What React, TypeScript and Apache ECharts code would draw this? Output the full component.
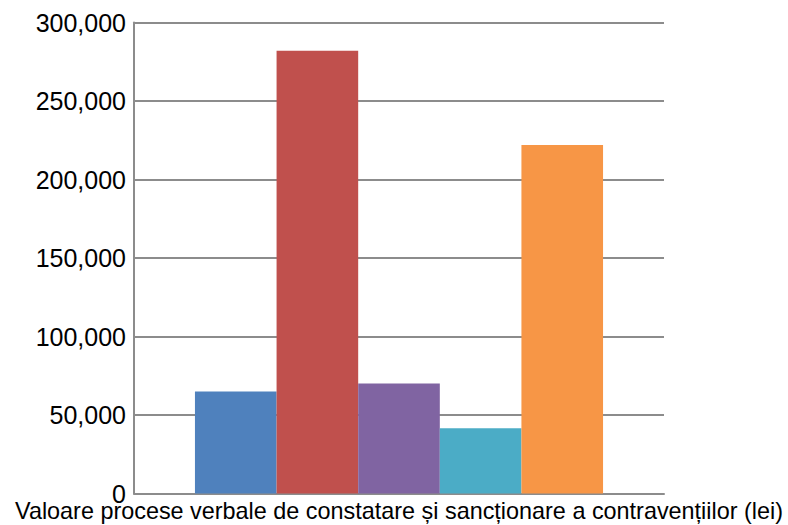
import React, { useEffect, useRef } from "react";
import * as echarts from "echarts";

const categories = ["Valoare procese verbale de constatare și sancționare a contravențiilor (lei)"];
const seriesNames = ["Serie 1", "Serie 2", "Serie 3", "Serie 4", "Serie 5"];
const seriesValues = [65000, 282000, 70000, 41600, 222000];
const seriesColors = ["#4F81BD", "#C0504D", "#8064A2", "#4BACC6", "#F79646"];

export default function App() {
  const ref = useRef<HTMLDivElement>(null);
  useEffect(() => {
    if (!ref.current) return;
    const chart = echarts.init(ref.current, null, { renderer: "svg" });
    chart.setOption({
      animation: false,
      grid: {
        left: 134,
        right: 124,
        top: 22.5,
        bottom: 31.5,
        containLabel: false,
        outerBoundsMode: "none",
      },
      xAxis: {
        type: "category",
        data: categories,
        axisLine: { show: true, lineStyle: { color: "#8C8C8C", width: 2 } },
        axisTick: { show: false },
        axisLabel: {
          interval: 0,
          margin: 6,
          color: "#000",
          fontFamily: "'Liberation Sans', sans-serif",
          fontSize: 23.4,
          hideOverlap: false,
        },
      },
      yAxis: {
        type: "value",
        min: 0,
        max: 300000,
        interval: 50000,
        axisLine: { show: true, lineStyle: { color: "#8C8C8C", width: 2 } },
        axisTick: { show: false },
        splitLine: { show: true, lineStyle: { color: "#8C8C8C", width: 2 } },
        axisLabel: {
          margin: 8,
          color: "#000",
          fontFamily: "'Liberation Sans', sans-serif",
          fontSize: 25,
          formatter: (v: number) => v.toLocaleString("en-US"),
        },
      },
      series: seriesNames.map((name, i) => ({
        name,
        type: "bar",
        data: [seriesValues[i]],
        barGap: "0%",
        barCategoryGap: "23%",
        itemStyle: { color: seriesColors[i] },
      })),
    });
    return () => chart.dispose();
  }, []);
  return (
    <div
      ref={ref}
      style={{ position: "absolute", left: 0, top: 0, width: 788, height: 525 }}
    />
  );
}
